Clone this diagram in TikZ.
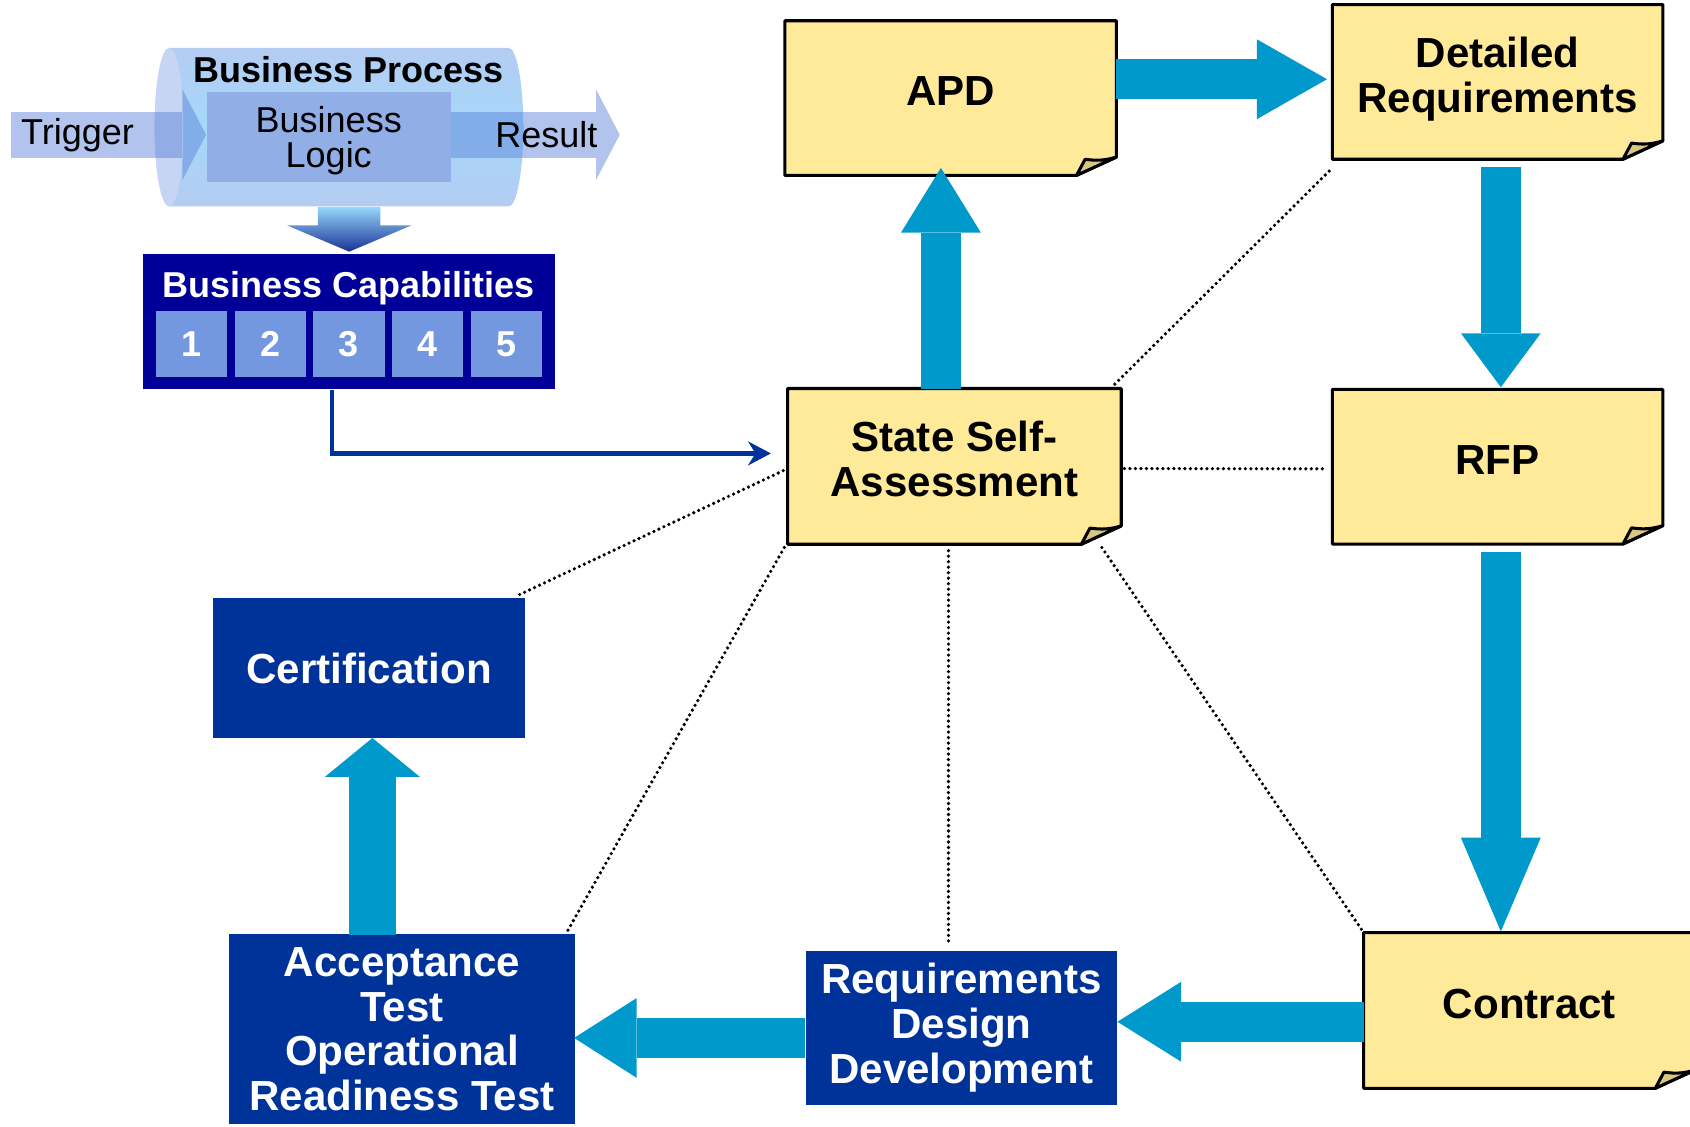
\documentclass[tikz,border=0pt]{standalone}
\usepackage{fontspec}
\setmainfont{Liberation Sans}
\usetikzlibrary{arrows.meta,calc}

% colours
\definecolor{noteyellow}{RGB}{255,234,153}
\definecolor{notefold}{RGB}{214,199,130}
\definecolor{flowblue}{RGB}{0,153,204}
\definecolor{taskblue}{RGB}{0,51,153}
\definecolor{capnavy}{RGB}{0,0,153}
\definecolor{capcell}{RGB}{116,152,224}
\definecolor{cylblue}{RGB}{180,204,242}
\definecolor{cylcyan}{RGB}{165,216,250}
\definecolor{cylface}{RGB}{197,213,243}
\definecolor{logicblue}{RGB}{145,174,230}
\definecolor{procblue}{RGB}{85,125,215}
\definecolor{dropcyan}{RGB}{150,215,250}
\definecolor{dropdark}{RGB}{25,50,150}

\pgfdeclarelayer{background}
\pgfdeclarelayer{middle}
\pgfsetlayers{background,middle,main}

\begin{document}
\begin{tikzpicture}[x=0.01cm, y=-0.01cm,
    bigtext/.style={font=\fontsize{11.1}{11.8}\selectfont\bfseries},
    smalltext/.style={font=\fontsize{9.5}{9.3}\selectfont},
    smallbold/.style={font=\fontsize{9.5}{9.3}\selectfont\bfseries},
    note/.style={bigtext, minimum width=3.06cm, minimum height=1.42cm, align=center, inner sep=0pt, text height=8pt, text depth=4pt},
    note2/.style={note, text height=20pt, text depth=4pt},
    task/.style={bigtext, text=white, fill=taskblue, align=center, inner sep=0pt},
    cell/.style={smallbold, text=white, fill=capcell, minimum width=0.66cm, minimum height=0.61cm, inner sep=0pt},
    flow/.style={draw=flowblue, line width=0.37cm, -{Triangle[width=0.74cm, length=#1, line width=0pt]}},
    flow/.default=0.6cm,
    procflow/.style={draw=procblue, opacity=0.45, line width=0.43cm, -{Triangle[width=0.84cm, length=0.22cm, line width=0pt]}},
    link/.style={line width=0.95pt, line cap=round, dash pattern=on 0pt off 1.45pt},
    outline/.style={line width=0.8pt, line join=round}]

  \useasboundingbox (0,0) rectangle (1568,1045);

  % Business process cylinder
  \begin{pgfonlayer}{background}
    \shade[top color=cylblue, bottom color=cylblue, middle color=cylcyan]
      (157,44.5) -- (472,44.5) arc (-90:90:13.5 and 73.5) -- (157,191.5) arc (90:270:13.5 and 73.5) -- cycle;
    \fill[cylface] (157,118) ellipse (13.5 and 73.5);
  \end{pgfonlayer}

  \node[smallbold] (bp) at (323,65) {Business Process};
  \node[smalltext, fill=logicblue, minimum width=2.26cm, minimum height=0.83cm, align=center, inner sep=0pt] (logic) at (305,127) {\rule{0pt}{9pt}Business\\Logic};
  \coordinate (trigin) at (10,125);
  \coordinate (resout) at (575,125);
  \begin{pgfonlayer}{middle}
    \draw[procflow] (trigin) -- (trigin -| logic.west);
    \draw[procflow] (logic.east |- resout) -- (resout);
  \end{pgfonlayer}
  \node[smalltext] (trigger) at (72,125) {Trigger};
  \node[smalltext] (result) at (507,125) {Result};

  % Drop into capabilities
  \coordinate (cylbot) at (324,192);
  \shade[top color=dropcyan, bottom color=dropdark]
    ($(cylbot)+(-29,0)$) -- ++(58,0) -- ++(0,17) -- ++(29,0) -- ($(cylbot)+(0,41.5)$) -- ++(-58,-24.5) -- ++(29,0) -- cycle;

  % Business capabilities
  \node[fill=capnavy, minimum width=3.82cm, minimum height=1.25cm, inner sep=0pt] (caps) at (324,298.5) {};
  \node[smallbold, text=white] (capstitle) at (323.5,267) {Business Capabilities};
  \foreach \i in {1,...,5}
    \node[cell] (cell\i) at ({104.5+73.1*\i},319) {\i};

  % Notes
  \node[note] (apd) at (882,91) {APD};
  \node[note2, minimum width=3.05cm] (detreq) at (1389.5,76) {Detailed\\Requirements};
  \node[note2, minimum width=3.08cm, minimum height=1.43cm] (ssa) at (885.5,432.7) {State Self-\\Assessment};
  \node[note, minimum width=3.05cm] (rfp) at (1389.5,433) {RFP};
  \node[note, minimum height=1.43cm] (contract) at (1419,937.5) {Contract};
  \begin{pgfonlayer}{background}
    \foreach \n in {apd,detreq,ssa,rfp,contract} {
      \filldraw[outline, fill=noteyellow] (\n.north west) -- (\n.north east) -- ($(\n.south east)+(0,-17)$)
        -- ($(\n.south east)+(-37,0)$) -- (\n.south west) -- cycle;
      \filldraw[outline, fill=notefold] ($(\n.south east)+(-37,0)$) -- ($(\n.south east)+(-29,-15)$)
        to[bend right=12] ($(\n.south east)+(0,-17)$) -- cycle;
    }
  \end{pgfonlayer}

  % Tasks
  \node[task, minimum width=2.89cm, minimum height=1.30cm] (cert) at (342.5,620) {Certification};
  \node[task, minimum width=3.21cm, minimum height=1.76cm] (accept) at (373,955) {Acceptance\\Test\\Operational\\Readiness Test};
  \node[task, minimum width=2.88cm, minimum height=1.43cm] (reqdes) at (892,953.5) {Requirements\\Design\\Development};

  % Capabilities feed the self-assessment
  \draw[taskblue, line width=1.3pt, -{Stealth[length=6pt, width=6.3pt]}] ($(caps.south)+(-16,0)$) |- ($(ssa.west)+(-15.5,-12)$);

  % Flow
  \draw[flow] ($(ssa.north)+(-12.5,0)$) -- ($(apd.south)+(-9,-7)$);
  \draw[flow=0.65cm] ($(apd.east)+(0,-17.5)$) -- ($(detreq.west)+(-5,-2.5)$);
  \draw[flow=0.5cm] ($(detreq.south)+(3,7)$) -- ($(rfp.north)+(3,-2)$);
  \draw[flow=0.87cm] ($(rfp.south)+(3,7)$) -- ($(contract.north)+(-26.5,-1)$);
  \draw[flow=0.59cm] ($(contract.west)+(0,10.5)$) -- ($(reqdes.east)+(0,-5.5)$);
  \draw[flow=0.58cm] ($(reqdes.west)+(0,9.5)$) -- ($(accept.east)+(-1.6,8)$);
  \draw[flow, line width=0.43cm, -{Triangle[width=0.88cm, length=0.36cm, line width=0pt]}] ($(accept.north)+(-27.5,1)$) -- ($(cert.south)+(3,-1)$);

  % Links to the self-assessment
  \draw[link] ($(ssa.north east)+(-6,-4)$) -- ($(detreq.south west)+(0,8)$);
  \draw[link] ($(ssa.east)+(3,2)$) -- ($(rfp.west)+(-5,2)$);
  \draw[link] ($(ssa.west)+(-4,4)$) -- ($(cert.north east)+(-7,-2)$);
  \draw[link] ($(ssa.south west)+(-3,3)$) -- ($(accept.north east)+(-8,-2)$);
  \draw[link] ($(ssa.south)+(-5.5,6)$) -- ($(reqdes.north)+(-12,-6)$);
  \draw[link] ($(ssa.south east)+(-18,3)$) -- (contract.north west);

\end{tikzpicture}
\end{document}
